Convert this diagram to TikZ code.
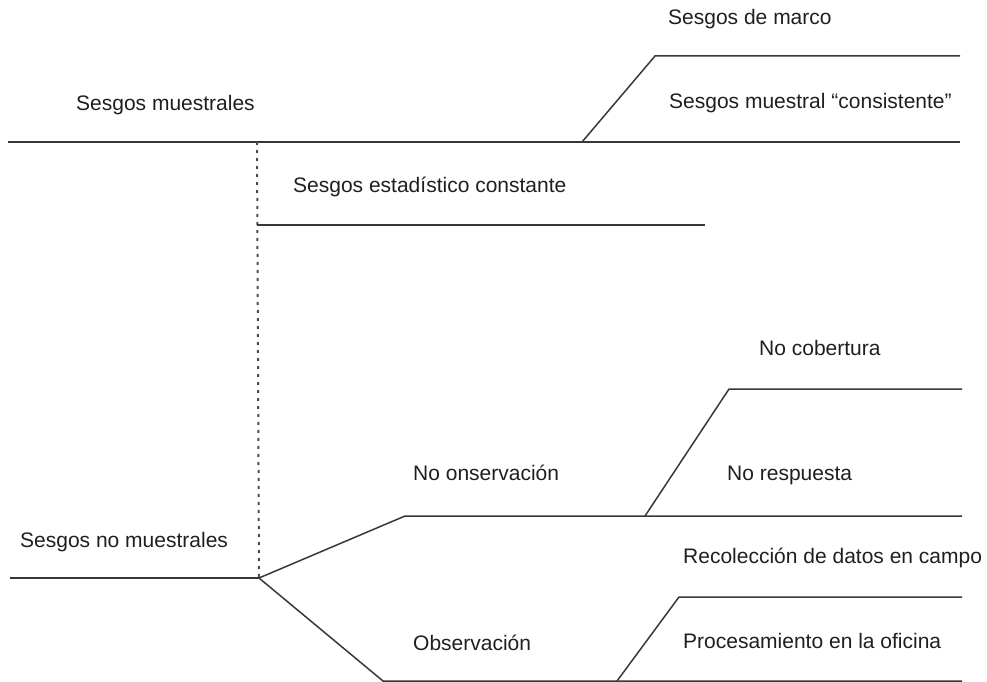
\documentclass[tikz,border=0pt]{standalone}
\usepackage{fontspec}
\setmainfont{Liberation Sans}
\begin{document}
\begin{tikzpicture}[x=1pt,y=-1pt,
  lbl/.style={anchor=base west,inner sep=0pt,text=black!88,font=\fontsize{21}{25}\selectfont},
  ln/.style={draw=black!78,line width=1.5pt},
  dots/.style={draw=black!70,line width=2pt,dash pattern=on 3pt off 5pt}]
\useasboundingbox (0,0) rectangle (987,682);
% coordinates
\coordinate (a0) at (8,142);
\coordinate (a1) at (582,142);
\coordinate (a2) at (960,142);
\coordinate (b1) at (655,56);
\coordinate (b2) at (960,56);
\coordinate (v0) at (257,142);
\coordinate (s1) at (257,225);
\coordinate (s2) at (705,225);
\coordinate (n0) at (10,578);
\coordinate (n1) at (259,578);
\coordinate (u1) at (405,516);
\coordinate (u2) at (645,516);
\coordinate (u3) at (962,516);
\coordinate (c1) at (729,389);
\coordinate (c2) at (962,389);
\coordinate (l1) at (383,681);
\coordinate (l2) at (617,681);
\coordinate (l3) at (962,681);
\coordinate (p1) at (679,597);
\coordinate (p2) at (962,597);
% lines
\draw[ln] (a0) -- (a2);
\draw[ln] (a1) -- (b1) -- (b2);
\draw[dots] (v0) -- (n1);
\draw[ln] (s1) -- (s2);
\draw[ln] (n0) -- (n1);
\draw[ln] (n1) -- (u1) -- (u3);
\draw[ln] (u2) -- (c1) -- (c2);
\draw[ln] (n1) -- (l1) -- (l3);
\draw[ln] (l2) -- (p1) -- (p2);
% labels
\node[lbl] (t1) at (668,25) {Sesgos de marco};
\node[lbl] (t2) at (669,109) {Sesgos muestral “consistente”};
\node[lbl] (t3) at (76,111) {Sesgos muestrales};
\node[lbl] (t4) at (293,192) {Sesgos estadístico constante};
\node[lbl] (t5) at (759,355) {No cobertura};
\node[lbl] (t6) at (413,480) {No onservación};
\node[lbl] (t7) at (727,480) {No respuesta};
\node[lbl] (t8) at (20,547) {Sesgos no muestrales};
\node[lbl] (t9) at (683,563) {Recolección de datos en campo};
\node[lbl] (t10) at (413,650) {Observación};
\node[lbl] (t11) at (683,648) {Procesamiento en la oficina};
\end{tikzpicture}
\end{document}
